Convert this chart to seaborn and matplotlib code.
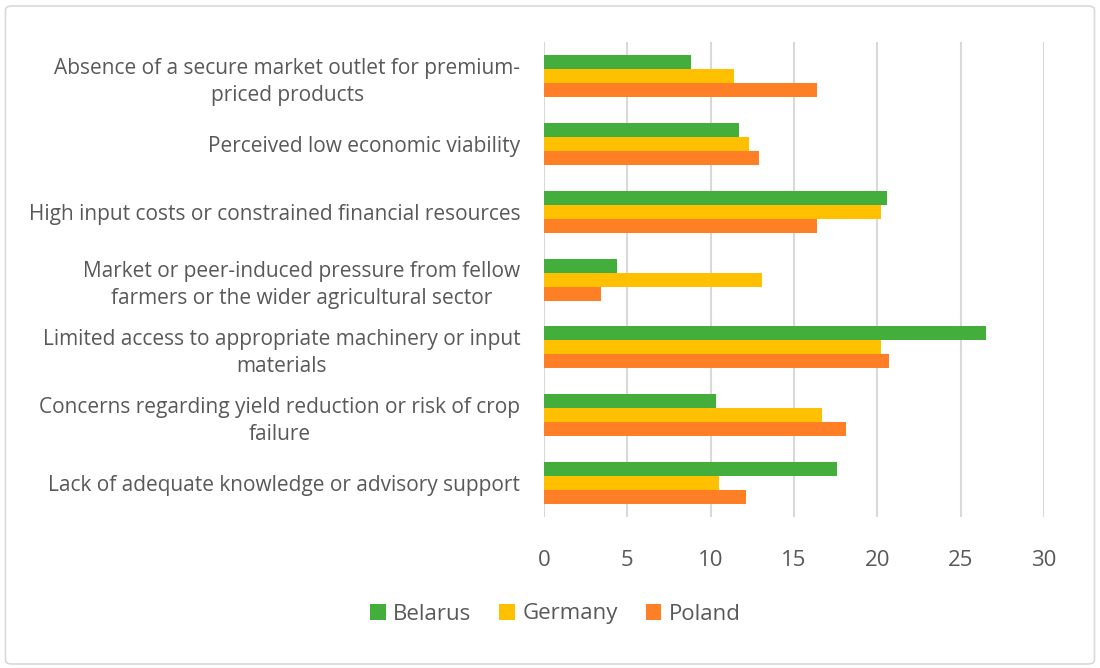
import matplotlib
matplotlib.use("Agg")
import matplotlib.pyplot as plt
import seaborn as sns
import pandas as pd
from matplotlib.patches import FancyBboxPatch, Patch

categories = [
    "Absence of a secure market outlet for premium-\npriced products",
    "Perceived low economic viability",
    "High input costs or constrained financial resources",
    "Market or peer-induced pressure from fellow\nfarmers or the wider agricultural sector",
    "Limited access to appropriate machinery or input\nmaterials",
    "Concerns regarding yield reduction or risk of crop\nfailure",
    "Lack of adequate knowledge or advisory support",
]
belarus = [8.8, 11.7, 20.6, 4.4, 26.5, 10.3, 17.6]
germany = [11.4, 12.3, 20.2, 13.1, 20.2, 16.7, 10.5]
poland = [16.4, 12.9, 16.4, 3.4, 20.7, 18.1, 12.1]
series_names = ["Belarus", "Germany", "Poland"]
colors = ["#43AE3C", "#FFC000", "#FF7F27"]
x_ticks = [0, 5, 10, 15, 20, 25, 30]

rows = []
for name, vals in zip(series_names, [belarus, germany, poland]):
    for c, v in zip(categories, vals):
        rows.append({"category": c, "country": name, "value": v})
df = pd.DataFrame(rows)

sns.set_style("white")
plt.rcParams["font.family"] = ["Open Sans", "DejaVu Sans"]
text_color = "#595959"

fig = plt.figure(figsize=(11, 6.68), dpi=100)
ax = fig.add_axes([0.4945, 0.226, 0.4545, 0.711])

sns.barplot(data=df, y="category", x="value", hue="country", order=categories,
            hue_order=series_names, palette=colors, orient="h", width=0.62,
            saturation=1, ax=ax, legend=False, edgecolor="none", linewidth=0)

ax.set_xlim(0, 30)
ax.set_xticks(x_ticks)
ax.set_ylim(len(categories) - 0.5, -0.5)
ax.grid(axis="x", color="#D9D9D9", linewidth=1.5)
ax.set_axisbelow(True)
for s in ax.spines.values():
    s.set_visible(False)
ax.set_xlabel("")
ax.set_ylabel("")
ax.tick_params(axis="x", length=0, pad=24, labelsize=16, labelcolor=text_color)
ax.tick_params(axis="y", length=0, pad=17, labelsize=15, labelcolor=text_color)
for lab in ax.get_yticklabels():
    lab.set_horizontalalignment("right")
    lab.set_multialignment("center")
    lab.set_linespacing(1.4)

handles = [Patch(facecolor=c, edgecolor="none") for c in colors]
fig.legend(handles, series_names, loc="center", bbox_to_anchor=(0.505, 1 - 614 / 668),
           ncol=3, frameon=False, fontsize=16, labelcolor=text_color,
           handlelength=0.7, handleheight=0.7, handletextpad=0.35, columnspacing=1.25)

border = FancyBboxPatch((0.005, 0.006), 0.99, 0.985, boxstyle="round,pad=0,rounding_size=0.006",
                        transform=fig.transFigure, facecolor="none",
                        edgecolor="#D9D9D9", linewidth=1.2)
fig.patches.append(border)

fig.savefig("out.png", dpi=100)
